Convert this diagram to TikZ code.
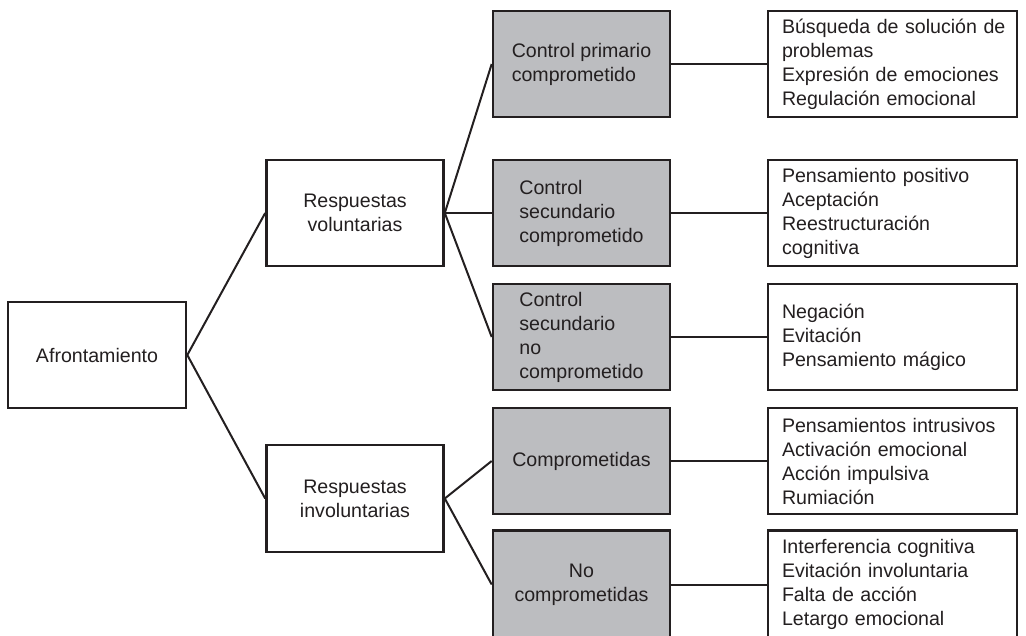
\documentclass[tikz,border=0pt]{standalone}
\usepackage{fontspec}
\setmainfont{Liberation Sans}
\definecolor{ink}{HTML}{231F20}
\definecolor{boxgray}{HTML}{BCBDC0}
\begin{document}
\begin{tikzpicture}[x=1pt,y=-1pt,
  every node/.style={font=\fontsize{19.6}{24}\selectfont, text=ink},
  box/.style={draw=ink, line width=2.6pt, rectangle, inner ysep=3pt, align=center},
  leftbox/.style={box, fill=white, minimum width=177pt, minimum height=106pt},
  midbox/.style={box, fill=boxgray, minimum width=177pt, minimum height=106pt},
  listbox/.style={box, fill=white, align=left, text width=221pt, inner xsep=14pt, minimum height=106pt},
  link/.style={draw=ink, line width=2pt}]
\useasboundingbox (0,0) rectangle (1026,635);
\begin{scope}
\clip (0,0) rectangle (1026,635);
% nodes
\node[leftbox, minimum width=178pt] (af) at (97,355) {Afrontamiento};
\node[leftbox] (rv) at (355,213) {Respuestas\\voluntarias};
\node[leftbox, minimum height=107pt] (ri) at (355,498.5) {Respuestas\\involuntarias};
\node[midbox, align=left] (cp) at (581.5,64) {Control primario\\comprometido};
\node[midbox, align=left] (csc) at (581.5,213) {Control\\secundario\\comprometido};
\node[midbox, align=left] (csn) at (581.5,337) {Control\\secundario\\no\\comprometido};
\node[midbox] (co) at (581.5,461) {Comprometidas};
\node[midbox, minimum height=108pt] (nc) at (581.5,584.5) {No\\comprometidas};
\node[listbox] (r1) at (892.5,64) {\mbox{Búsqueda de solución de}\\problemas\\Expresión de emociones\\Regulación emocional};
\node[listbox] (r2) at (892.5,213) {Pensamiento positivo\\Aceptación\\Reestructuración\\cognitiva};
\node[listbox] (r3) at (892.5,337) {Negación\\Evitación\\Pensamiento mágico};
\node[listbox] (r4) at (892.5,461) {Pensamientos intrusivos\\Activación emocional\\Acción impulsiva\\Rumiación};
\node[listbox, minimum height=108pt] (r5) at (892.5,584.5) {Interferencia cognitiva\\Evitación involuntaria\\Falta de acción\\Letargo emocional};
% connectors
\draw[link] (af.east) -- (rv.west);
\draw[link] (af.east) -- (ri.west);
\draw[link] (rv.east) -- (cp.west);
\draw[link] (rv.east) -- (csc.west);
\draw[link] (rv.east) -- (csn.west);
\draw[link] (ri.east) -- (co.west);
\draw[link] (ri.east) -- (nc.west);
\draw[link] (cp.east) -- (r1.west);
\draw[link] (csc.east) -- (r2.west);
\draw[link] (csn.east) -- (r3.west);
\draw[link] (co.east) -- (r4.west);
\draw[link] (nc.east) -- (r5.west);
\end{scope}
\end{tikzpicture}
\end{document}
